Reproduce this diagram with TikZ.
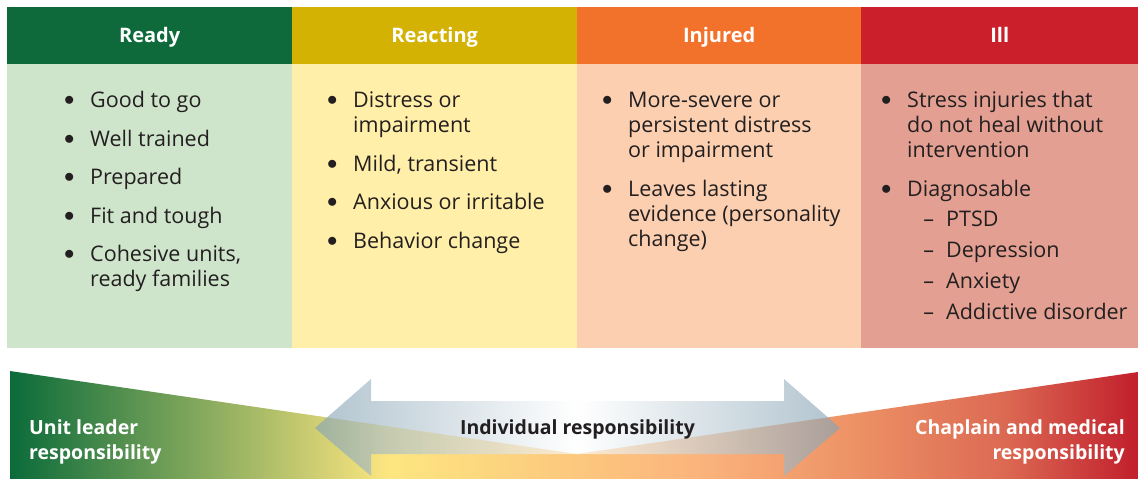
\documentclass[tikz,border=0pt]{standalone}
\usepackage{fontspec}
\setmainfont{Open Sans}
\usetikzlibrary{positioning}

\definecolor{ink}{HTML}{231F20}
\definecolor{readydark}{HTML}{0F6A3B}
\definecolor{readylight}{HTML}{CEE5CC}
\definecolor{reactdark}{HTML}{D3B204}
\definecolor{reactlight}{HTML}{FFEFA8}
\definecolor{injdark}{HTML}{F3722B}
\definecolor{injlight}{HTML}{FBCFAF}
\definecolor{illdark}{HTML}{CB202B}
\definecolor{illlight}{HTML}{E3A092}
\definecolor{bandgreen}{HTML}{0B6B3A}
\definecolor{bandyellow}{HTML}{FDE680}
\definecolor{bandorange}{HTML}{FCC87E}
\definecolor{bandpeach}{HTML}{FBB47C}
\definecolor{bandsalmon}{HTML}{EE9467}
\definecolor{bandbrick}{HTML}{DC6A53}
\definecolor{bandred}{HTML}{C11F2C}
\definecolor{arrowsteel}{HTML}{86A3B4}

\pgfdeclarehorizontalshading{bandshade}{100bp}{%
  color(0bp)=(bandgreen); color(25bp)=(bandgreen);
  color(41.8bp)=(bandyellow); color(50bp)=(bandorange);
  color(55.5bp)=(bandpeach); color(62bp)=(bandsalmon);
  color(69bp)=(bandbrick); color(75bp)=(bandred); color(100bp)=(bandred)}

\newcommand{\bul}{\llap{\makebox[42pt]{\raisebox{2pt}{$\bullet$}}}}
\newcommand{\dsh}{\llap{\makebox[35pt]{--}}}

\begin{document}
\begin{tikzpicture}%
    [x=1pt, y=-1pt,
    headcell/.style={anchor=north west, inner sep=0pt, minimum width=#1, minimum height=57pt,
      text=white, font=\bfseries\fontsize{20}{24}\selectfont, text height=14pt, text depth=0pt},
    bodycell/.style={anchor=north west, inner sep=0pt, minimum width=#1, minimum height=284pt},
    item/.style={anchor=base west, align=left, inner sep=0pt, text=ink,
      font=\fontsize{21.5}{25}\selectfont},
    sidetext/.style={inner sep=0pt, text=white, font=\bfseries\fontsize{19.5}{25}\selectfont}]

    \useasboundingbox (0,0) rectangle (1138,479);

    % table
    \node [headcell=285pt, fill=readydark] (readyhead) at (7,7) {Ready};
    \node [headcell=285pt, fill=reactdark] (reacthead) at (292,7) {Reacting};
    \node [headcell=284pt, fill=injdark]   (injhead)   at (577,7) {Injured};
    \node [headcell=277pt, fill=illdark]   (illhead)   at (861,7) {Ill};

    \node [bodycell=285pt, fill=readylight] (readybody) at (7,64) {};
    \node [bodycell=285pt, fill=reactlight] (reactbody) at (292,64) {};
    \node [bodycell=284pt, fill=injlight]   (injbody)   at (577,64) {};
    \node [bodycell=277pt, fill=illlight]   (illbody)   at (861,64) {};

    % Ready (base = last line of each item)
    \node [item] (ready1) at (90,107.7) {\bul Good to go};
    \node [item] (ready2) at (90,146.2) {\bul Well trained};
    \node [item] (ready3) at (90,184.7) {\bul Prepared};
    \node [item] (ready4) at (90,223.2) {\bul Fit and tough};
    \node [item] (ready5) at (90,286.7) {\bul Cohesive units,\\ready families};

    % Reacting
    \node [item] (react1) at (353,132.7) {\bul Distress or\\impairment};
    \node [item] (react2) at (353,171.2) {\bul Mild, transient};
    \node [item] (react3) at (353,209.7) {\bul Anxious or irritable};
    \node [item] (react4) at (353,248.2) {\bul Behavior change};

    % Injured
    \node [item] (inj1) at (628,157.7) {\bul More-severe or\\persistent distress\\or impairment};
    \node [item] (inj2) at (628,246.2) {\bul Leaves lasting\\evidence (personality\\change)};

    % Ill
    \node [item] (ill1) at (907,157.7) {\bul Stress injuries that\\do not heal without\\intervention};
    \node [item] (ill2) at (907,196.2) {\bul Diagnosable};
    \node [item] (illsub1) at (946,226.9) {\dsh PTSD};
    \node [item] (illsub2) at (946,257.6) {\dsh Depression};
    \node [item] (illsub3) at (946,288.3) {\dsh Anxiety};
    \node [item] (illsub4) at (946,319) {\dsh Addictive disorder};

    % responsibility band
    \shade [shading=bandshade] (10,371) -- (577,454) -- (1138,372) -- (1138,479) -- (10,479) -- cycle;

    \shade [left color=arrowsteel, right color=arrowsteel, middle color=white, fill opacity=0.65]
      (315,428) -- (371,379) -- (371,401) -- (784,401) -- (784,379) -- (840,428)
      -- (784,476) -- (784,454) -- (371,454) -- (371,476) -- cycle;

    \node [inner sep=0pt, anchor=base, text=ink, font=\bfseries\fontsize{19.5}{25}\selectfont]
      (indiv) at (577.5,434) {Individual responsibility};
    \node [sidetext, anchor=base west, align=left] (unitlead) at (29,459) {Unit leader\\responsibility};
    \node [sidetext, anchor=base east, align=right] (chaplain) at (1125,459) {Chaplain and medical\\responsibility};
  \end{tikzpicture}
\end{document}
